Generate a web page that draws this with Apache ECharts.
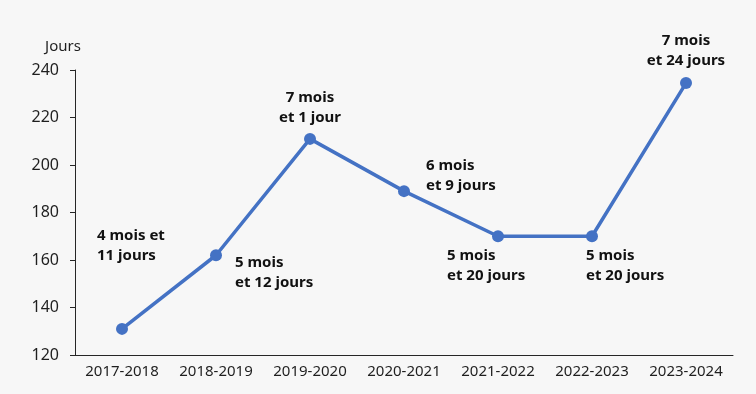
<!DOCTYPE html>
<html><head><meta charset="utf-8">
<script src="https://cdn.jsdelivr.net/npm/echarts@6/dist/echarts.min.js"></script>
<style>html,body{margin:0;padding:0;background:#f7f7f7;}#c{width:756px;height:394px;}</style>
</head><body><div id="c"></div>
<script>
const categories = ['2017-2018','2018-2019','2019-2020','2020-2021','2021-2022','2022-2023','2023-2024'];
const values = [131, 162, 211, 189, 170, 170, 234.5];
const labels = ['4 mois et\n11 jours','5 mois\net 12 jours','7 mois\net 1 jour','6 mois\net 9 jours','5 mois\net 20 jours','5 mois\net 20 jours','7 mois\net 24 jours'];
const labelPlace = [
  {align:'left', offset:[-25,-83]},
  {align:'left', offset:[19,17]},
  {align:'center', offset:[0,-31]},
  {align:'left', offset:[22,-15]},
  {align:'left', offset:[-51,29]},
  {align:'left', offset:[-6,29]},
  {align:'center', offset:[0,-32]}
];
const chart = echarts.init(document.getElementById('c'));
chart.setOption({
  backgroundColor:'#f7f7f7',
  animation:false,
  grid:{left:75,right:23,top:70,bottom:39},
  xAxis:{type:'category',data:categories,
    axisLine:{lineStyle:{color:'#262626',width:1}},
    axisTick:{show:false},
    axisLabel:{interval:0,color:'#1f1f1f',fontSize:15,fontFamily:'Noto Sans',margin:9}},
  yAxis:{type:'value',min:120,max:240,interval:20,name:'Jours',nameLocation:'end',nameGap:16,
    nameTextStyle:{color:'#1f1f1f',fontSize:15,fontFamily:'Noto Sans',align:'center',padding:[0,24,0,0]},
    axisLine:{show:true,lineStyle:{color:'#262626',width:1}},
    axisTick:{show:true,length:5,lineStyle:{color:'#262626'}},
    splitLine:{show:false},
    axisLabel:{color:'#1f1f1f',fontSize:16,fontFamily:'Noto Sans',margin:16}},
  series:[{type:'line',
    data: values.map((v,i)=>({value:v,label:{formatter:labels[i],align:labelPlace[i].align,offset:labelPlace[i].offset}})),
    symbol:'circle',symbolSize:12,
    lineStyle:{color:'#4472C4',width:3.5},
    itemStyle:{color:'#4472C4'},
    label:{show:true,position:'inside',verticalAlign:'middle',fontSize:15,fontWeight:'bold',fontFamily:'Noto Sans',color:'#111',lineHeight:20}
  }]
});
</script></body></html>
